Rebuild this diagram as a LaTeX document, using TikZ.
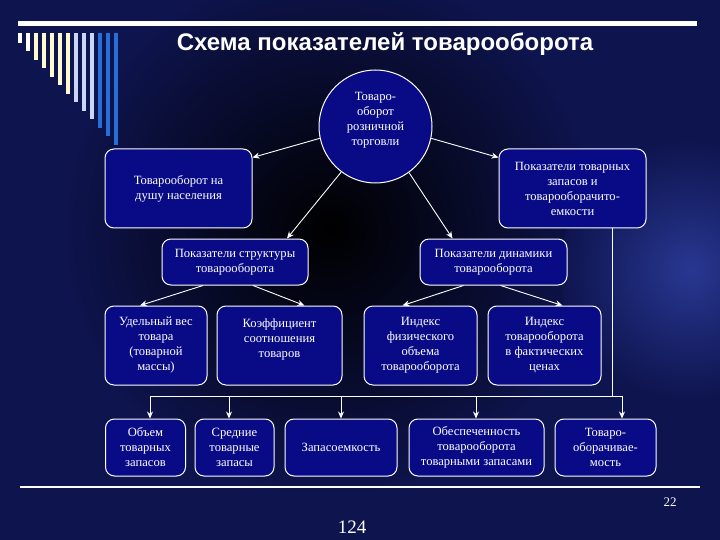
\documentclass[tikz,border=0pt]{standalone}
\usepackage{fontspec}
\setmainfont{Liberation Serif}
\newfontfamily\headfont{Liberation Sans}
\usepackage{xcolor}
\usetikzlibrary{arrows.meta,calc}

\definecolor{slidebg}{RGB}{14,20,78}
\definecolor{glow}{RGB}{40,55,145}
\definecolor{boxblue}{RGB}{8,10,134}
\definecolor{barcream}{RGB}{255,250,205}
\definecolor{barpale}{RGB}{200,215,245}
\definecolor{barblue}{RGB}{40,110,215}

\begin{document}
\begin{tikzpicture}[x=1pt, y=-1pt,
    box/.style={rectangle, rounded corners=9pt, draw=white, line width=1pt, fill=boxblue, text=white, align=center, font=\fontsize{12.6}{15}\selectfont, inner sep=2pt},
    hub/.style={circle, draw=white, line width=1pt, fill=boxblue, minimum size=113pt, inner sep=0pt},
    arr/.style={draw=white, line width=0.9pt, -{Stealth[length=7pt,width=6pt]}},
    wire/.style={draw=white, line width=0.9pt}]
    \useasboundingbox (0,0) rectangle (720,540);

    % Background
    \fill[slidebg] (0,0) rectangle (720,540);
    \shade[inner color=black, outer color=slidebg] (330,230) circle (270);
    \shade[inner color=glow, outer color=slidebg] (690,270) circle (130);

    % Rules and bars
    \fill[white] (18,21) rectangle (697,26);
    \fill[white] (20,486) rectangle (700,488);
    \foreach \i/\c in {0/white,1/white,2/barcream,3/barcream,4/barcream,5/barcream,6/barcream,7/barpale,8/barpale,9/barpale,10/barblue,11/barblue,12/barblue}
        \fill[\c] ({18+8*\i},33) rectangle ({21.5+8*\i},{43+8.5*\i});

    % Title
    \node[text=white, font=\headfont\bfseries\fontsize{24}{28}\selectfont] (title) at (385,44) {Схема показателей товарооборота};

    % Retail turnover
    \node[hub, label={[text=white, align=center, font=\fontsize{12.6}{15}\selectfont, yshift=6pt]center:{Товаро-\\оборот\\розничной\\торговли}}] (retail) at (375.5,126.5) {};

    % First level
    \node[box, minimum width=147pt, minimum height=79pt] (perCapita) at (178.5,188.5) {Товарооборот на\\душу населения};
    \node[box, minimum width=147pt, minimum height=79pt] (stockIdx) at (572.5,188.5) {Показатели товарных\\запасов и\\товарооборачито-\\емкости};

    % Second level
    \node[box, minimum width=146pt, minimum height=46pt] (structure) at (235,262) {Показатели структуры\\товарооборота};
    \node[box, minimum width=147pt, minimum height=46pt] (dynamics) at (493.5,262) {Показатели динамики\\товарооборота};

    % Third level
    \node[box, minimum width=102pt, minimum height=79pt] (share) at (156,345.5) {Удельный вес\\товара\\(товарной\\массы)};
    \node[box, minimum width=125pt, minimum height=79pt] (ratio) at (279.5,345.5) {Коэффициент\\соотношения\\товаров\\{}};
    \node[box, minimum width=113pt, minimum height=79pt] (volIdx) at (420.5,345.5) {Индекс\\физического\\объема\\товарооборота};
    \node[box, minimum width=113pt, minimum height=79pt] (priceIdx) at (544.5,345.5) {Индекс\\товарооборота\\в фактических\\ценах};

    % Stock indicators
    \node[box, minimum width=80pt, minimum height=57pt] (stock) at (145.5,447.5) {Объем\\товарных\\запасов};
    \node[box, minimum width=79pt, minimum height=57pt] (avgStock) at (234.5,447.5) {Средние\\товарные\\запасы};
    \node[box, minimum width=112pt, minimum height=57pt] (stockInt) at (341,447.5) {Запасоемкость};
    \node[box, minimum width=135pt, minimum height=57pt] (supply) at (476.5,447.5) {Обеспеченность\\товарооборота\\товарными запасами};
    \node[box, minimum width=101pt, minimum height=57pt] (turnover) at (605.5,447.5) {Товаро-\\оборачивае-\\мость};

    % Page numbers
    \node[text=white, font=\fontsize{13}{15}\selectfont] (pagenum) at (670,502) {22};
    \node[text=white, font=\fontsize{19}{22}\selectfont] (footnum) at (352,527) {124};

    % Connections
    \draw[arr] (retail.192) -- ([yshift=-9pt]perCapita.north east);
    \draw[arr] (retail.348) -- ([yshift=-9pt]stockIdx.north west);
    \draw[arr] (retail.233) -- ([xshift=52pt]structure.north);
    \draw[arr] (retail.306) -- ([xshift=-41pt]dynamics.north);
    \draw[arr] ([xshift=-32pt]structure.south) -- ([xshift=-16pt]share.north);
    \draw[arr] ([xshift=18pt]structure.south) -- ([xshift=25pt]ratio.north);
    \draw[arr] ([xshift=-30pt]dynamics.south) -- ([xshift=-18pt]volIdx.north);
    \draw[arr] ([xshift=7pt]dynamics.south) -- ([xshift=18pt]priceIdx.north);

    % Bus to stock indicators
    \coordinate (drop) at (612,396);
    \coordinate (busL) at (150,396);
    \coordinate (busR) at (622,396);
    \draw[wire] (stockIdx.south -| drop) -- (drop);
    \draw[wire] (busL) -- (busR);
    \foreach \x/\n in {150/stock, 229/avgStock, 341/stockInt, 476/supply, 622/turnover} {
        \coordinate (tap-\n) at (\x,396);
        \draw[arr] (tap-\n) -- (tap-\n |- \n.north);
    }
\end{tikzpicture}
\end{document}
